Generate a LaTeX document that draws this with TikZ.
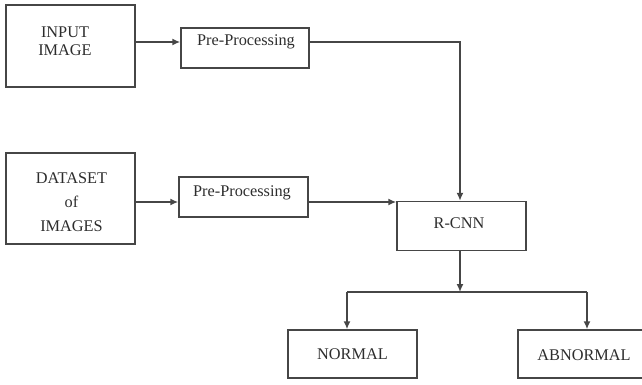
\documentclass[tikz,border=0pt]{standalone}
\usepackage{fontspec}
\setmainfont{Liberation Serif}
\usetikzlibrary{arrows.meta}
\definecolor{ink}{RGB}{70,70,70}
\definecolor{txtink}{RGB}{45,45,45}
\begin{document}
\begin{tikzpicture}[x=1pt,y=-1pt,
  box/.style={draw=ink, line width=1.5pt, inner sep=0pt},
  txt/.style={text=txtink, font=\fontsize{16.3}{18}\selectfont, align=center, inner sep=0pt},
  arr/.style={draw=ink, line width=1.5pt, -{Latex[length=8pt,width=7pt]}},
  ln/.style={draw=ink, line width=1.5pt}]
\useasboundingbox (0,0) rectangle (642,384);
% boxes
\node[box, minimum width=129pt, minimum height=82pt] (inp) at (70.5,46) {};
\node[box, minimum width=128pt, minimum height=40pt] (pp1) at (245,48) {};
\node[box, minimum width=129pt, minimum height=91pt] (ds) at (70.5,198.5) {};
\node[box, minimum width=129pt, minimum height=40pt] (pp2) at (243.5,197) {};
\node[box, minimum width=129pt, minimum height=49pt] (rcnn) at (461.5,226) {};
\node[box, minimum width=129pt, minimum height=48pt] (nor) at (352.5,354) {};
\node[box, minimum width=132pt, minimum height=48pt] (abn) at (584,354) {};
% labels
\node[txt] (inpT) at (65,41) {INPUT\\IMAGE};
\node[txt] (ppT1) at (246,42) {Pre-Processing};
\node[txt, font=\fontsize{16.3}{24}\selectfont] (dsT) at (71.5,202) {DATASET\\of\\IMAGES};
\node[txt] (ppT2) at (242,193) {Pre-Processing};
\node[txt] (rcnnT) at (459,223) {R-CNN};
\node[txt] (norT) at (352.5,354) {NORMAL};
\node[txt] (abnT) at (584,355) {ABNORMAL};
% routing points
\coordinate (r1) at (0,42);
\coordinate (r2) at (0,202);
\coordinate (drop) at (460,42);
\coordinate (split) at (460,292);
\coordinate (sl) at (347,292);
\coordinate (sr) at (587,292);
% connectors
\draw[arr] (inp.east |- r1) -- (pp1.west |- r1);
\draw[arr] (pp1.east |- r1) -- (drop) -- (drop |- rcnn.north);
\draw[arr] (ds.east |- r2) -- (pp2.west |- r2);
\draw[arr] (pp2.east |- r2) -- (rcnn.west |- r2);
\draw[arr] (rcnn.south -| split) -- (split);
\draw[ln] (sl) -- (sr);
\draw[arr] (sl) -- (sl |- nor.north);
\draw[arr] (sr) -- (sr |- abn.north);
\end{tikzpicture}
\end{document}
